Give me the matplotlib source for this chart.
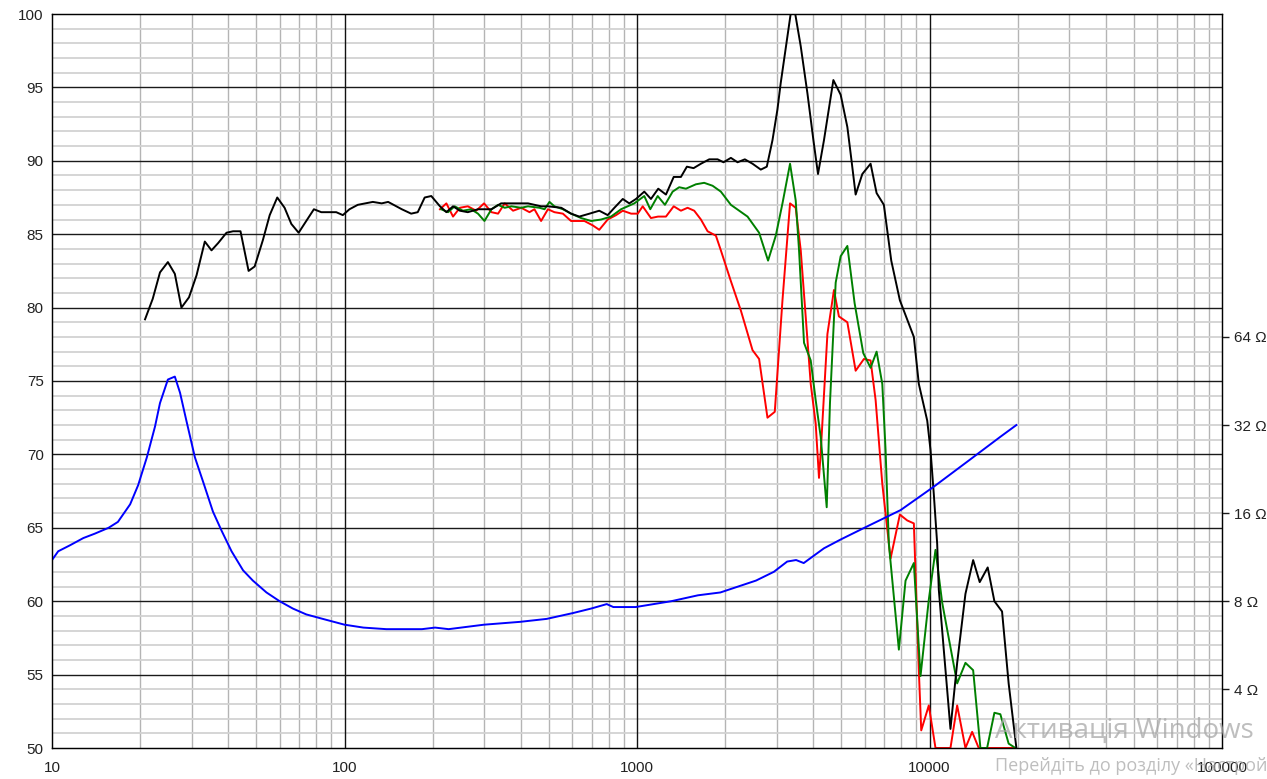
import numpy as np
import matplotlib
matplotlib.use("Agg")
import matplotlib.pyplot as plt
from matplotlib.ticker import LogLocator, NullFormatter, FixedLocator, FuncFormatter

plt.rcParams['font.family'] = ['Liberation Sans', 'DejaVu Sans']

# SPL, on-axis (black)
black_f = [20.8, 22.1, 23.4, 24.9, 26.3, 27.7, 29.4, 31.2, 33.3, 35.1, 37.0, 39.5, 41.6, 44.1,
           47.0, 49.3, 52.6, 55.5, 58.9, 62.4, 65.8, 69.7, 74.0, 78.6, 83.3, 93.7, 98.7, 104,
           111, 125, 134, 141, 157, 169, 178, 188, 198, 212, 223, 235, 248, 264, 286, 318,
           343, 381, 424, 470, 496, 551, 595, 635, 688, 743, 794, 837, 894, 941, 992, 1059,
           1116, 1182, 1256, 1335, 1413, 1481, 1561, 1654, 1766, 1886, 1976, 2094, 2207,
           2337, 2483, 2650, 2778, 2905, 3021, 3100, 3408, 3629, 3825, 4010, 4157, 4357,
           4692, 4969, 5238, 5406, 5591, 5893, 6289, 6594, 6982, 7400, 7919, 8841, 9194,
           9823, 10079, 10344, 10624, 10758, 11189, 11794, 12433, 13270, 14100, 14848,
           15812, 16667, 17703, 18646, 19818]
black_db = [79.2, 80.6, 82.4, 83.1, 82.3, 80.0, 80.7, 82.2, 84.5, 83.9, 84.4, 85.1, 85.2, 85.2,
            82.5, 82.8, 84.6, 86.3, 87.5, 86.8, 85.7, 85.1, 85.9, 86.7, 86.5, 86.5, 86.3, 86.7,
            87.0, 87.2, 87.1, 87.2, 86.7, 86.4, 86.5, 87.5, 87.6, 86.9, 86.5, 86.9, 86.6, 86.5,
            86.7, 86.7, 87.1, 87.1, 87.1, 86.9, 86.9, 86.8, 86.4, 86.2, 86.4, 86.6, 86.3, 86.8,
            87.4, 87.1, 87.4, 87.9, 87.4, 88.1, 87.7, 88.9, 88.9, 89.6, 89.5, 89.8, 90.1, 90.1,
            89.9, 90.2, 89.9, 90.1, 89.8, 89.4, 89.6, 91.4, 93.5, 95.3, 101.0, 97.8, 94.6,
            91.4, 89.1, 91.4, 95.5, 94.5, 92.3, 90.1, 87.7, 89.1, 89.8, 87.8, 87.0, 83.2,
            80.5, 78.0, 74.8, 72.3, 70.3, 67.3, 63.9, 60.8, 56.7, 51.3, 55.8, 60.5, 62.8,
            61.3, 62.3, 60.0, 59.3, 54.4, 50.0]

# SPL, off-axis 1 (green)
green_f = [214, 226, 238, 254, 271, 286, 301, 318, 335, 353, 372, 402, 424, 464, 483, 502,
           522, 558, 595, 644, 697, 754, 815, 882, 979, 1059, 1110, 1177, 1246, 1324, 1394,
           1470, 1590, 1697, 1813, 1935, 2094, 2387, 2615, 2806, 2982, 3143, 3336, 3488,
           3581, 3724, 3926, 4082, 4246, 4452, 4568, 4778, 4969, 5238, 5546, 5937, 6289,
           6594, 6896, 7076, 7262, 7857, 8281, 8841, 9317, 9945, 10483, 11050, 12433,
           13270, 14100, 14930, 15736, 16667, 17468, 18646, 19663]
green_db = [86.7, 86.5, 86.9, 86.6, 86.7, 86.4, 85.9, 86.7, 87.0, 86.8, 86.9, 86.8, 86.9,
            86.8, 86.7, 87.2, 86.9, 86.7, 86.4, 86.1, 85.9, 86.0, 86.2, 86.7, 87.1, 87.6,
            86.7, 87.6, 87.0, 87.9, 88.2, 88.1, 88.4, 88.5, 88.3, 87.9, 87.0, 86.2, 85.1,
            83.2, 84.9, 87.1, 89.8, 87.3, 83.9, 77.6, 76.4, 73.7, 71.2, 66.4, 73.5, 81.7,
            83.5, 84.2, 80.3, 76.9, 75.9, 77.0, 74.8, 70.3, 63.9, 56.7, 61.4, 62.6, 54.9,
            60.1, 63.5, 59.9, 54.4, 55.8, 55.3, 50.0, 50.0, 52.4, 52.3, 50.3, 50.0]

# SPL, off-axis 2 (red)
red_f = [212, 223, 235, 248, 264, 282, 300, 318, 335, 353, 377, 402, 429, 446, 470, 496,
         522, 558, 595, 661, 706, 743, 794, 848, 894, 955, 1006, 1046, 1116, 1180, 1256,
         1335, 1413, 1489, 1569, 1654, 1743, 1861, 1935, 2094, 2265, 2483, 2615, 2793,
         2958, 3143, 3336, 3488, 3629, 3926, 4082, 4190, 4246, 4477, 4714, 4901, 5238,
         5591, 5968, 6289, 6543, 6896, 7359, 7919, 8393, 8841, 9194, 9370, 9945, 10483,
         11794, 12433, 13270, 13990, 14732, 18417, 19663]
red_db = [86.7, 87.1, 86.2, 86.8, 86.9, 86.6, 87.1, 86.5, 86.4, 87.1, 86.6, 86.8, 86.5,
          86.7, 85.9, 86.7, 86.5, 86.4, 85.9, 85.9, 85.6, 85.3, 86.0, 86.3, 86.6, 86.4,
          86.4, 86.9, 86.1, 86.2, 86.2, 86.9, 86.6, 86.8, 86.6, 86.0, 85.2, 84.9, 83.9,
          81.8, 79.8, 77.1, 76.5, 72.5, 72.9, 80.5, 87.1, 86.8, 83.9, 74.8, 72.1, 68.4,
          70.1, 78.2, 81.2, 79.4, 79.0, 75.7, 76.5, 76.4, 73.7, 68.0, 62.9, 65.9, 65.5,
          65.3, 55.3, 51.2, 52.9, 50.0, 50.0, 52.9, 50.0, 51.1, 50.0, 50.0, 50.0]

# impedance (blue), ohms
imp_f = [10.0, 10.5, 11.5, 12.8, 14.0, 15.6, 16.8, 18.5, 19.7, 21.1, 22.5, 23.4, 24.9,
         26.3, 27.4, 28.8, 30.8, 32.9, 35.5, 38.0, 41.1, 45.0, 48.6, 54.1, 60.0, 66.6,
         74.0, 84.3, 100, 116, 139, 184, 204, 227, 300, 398, 491, 605, 697, 788, 830, 989,
         1310, 1616, 1928, 2552, 2936, 3262, 3499, 3715, 4357, 4969, 6130, 7962, 10345,
         13450, 17474, 19817]
imp_ohm = [11.06, 11.85, 12.41, 13.15, 13.61, 14.25, 14.93, 17.15, 19.93, 24.82, 31.63,
           38.05, 45.78, 46.85, 41.25, 33.13, 24.82, 20.39, 16.19, 13.93, 11.85, 10.20,
           9.41, 8.57, 8.00, 7.55, 7.21, 6.96, 6.65, 6.50, 6.42, 6.42, 6.50, 6.42, 6.65,
           6.80, 6.96, 7.29, 7.55, 7.82, 7.64, 7.64, 8.00, 8.38, 8.57, 9.41, 10.08, 10.93,
           11.06, 10.80, 12.13, 13.00, 14.42, 16.38, 19.70, 23.97, 29.18, 32.0]

x_ticks = [10, 100, 1000, 10000, 100000]
ohm_ticks = [4, 8, 16, 32, 64]

fig = plt.figure(figsize=(12.67, 7.79), dpi=100)
ax = fig.add_axes([52/1267, 31/779, 1170/1267, 734/779])

ax.set_xscale('log')
ax.set_xlim(10, 100000)
ax.set_ylim(50, 100)

ax.xaxis.set_major_locator(FixedLocator(x_ticks))
ax.xaxis.set_major_formatter(FuncFormatter(lambda v, p: f"{int(v)}"))
ax.xaxis.set_minor_locator(LogLocator(base=10, subs=range(2, 10)))
ax.xaxis.set_minor_formatter(NullFormatter())
ax.set_yticks(np.arange(50, 101, 5))
ax.set_yticks(np.arange(50, 101, 1), minor=True)

# light minor grid, then the dark major lines drawn above it
ax.grid(which='minor', axis='y', color='#d2d2d2', lw=1.3)
ax.grid(which='minor', axis='x', color='#b4b4b4', lw=1.0)
ax.set_axisbelow(True)
for v in x_ticks[1:-1]:
    ax.axvline(v, color='#111111', lw=1.0, zorder=1)
for v in np.arange(55, 100, 5):
    ax.axhline(v, color='#1a1a1a', lw=1.0, zorder=1)

ax.tick_params(which='both', length=0, labelsize=11, labelcolor='#222222')
ax.tick_params(axis='x', pad=9)
ax.tick_params(axis='y', pad=6)
for s in ax.spines.values():
    s.set_color('#1a1a1a')
    s.set_linewidth(1.0)

ax.plot(red_f, red_db, color='#ff0000', lw=1.4)
ax.plot(green_f, green_db, color='#008000', lw=1.4)
ax.plot(black_f, black_db, color='#000000', lw=1.4)

ax2 = ax.twinx()
ax2.set_yscale('log', base=2)
ax2.set_ylim(4 * 2 ** (-4 / 6), 4 * 2 ** (46 / 6))
ax2.yaxis.set_major_locator(FixedLocator(ohm_ticks))
ax2.yaxis.set_major_formatter(FuncFormatter(lambda v, p: f"{int(round(v))} Ω"))
ax2.yaxis.set_minor_locator(FixedLocator([]))
ax2.tick_params(axis='y', length=5, width=1, color='#1a1a1a', labelsize=11,
                labelcolor='#222222', pad=4)
ax2.plot(imp_f, imp_ohm, color='#0000ff', lw=1.4)

# Windows watermark from the screenshot
fig.text(995/1267, 1 - 738/779, "Активація Windows", fontsize=20, color='#a8a8a8',
         alpha=0.75, family=['Open Sans', 'DejaVu Sans'], va='baseline', zorder=10)
fig.text(995/1267, 1 - 771/779, "Перейдіть до розділу «Настройки», щоб активувати Windows.",
         fontsize=13, color='#a8a8a8', alpha=0.75, family=['Open Sans', 'DejaVu Sans'],
         va='baseline', zorder=10)

fig.savefig('out.png', dpi=100)
